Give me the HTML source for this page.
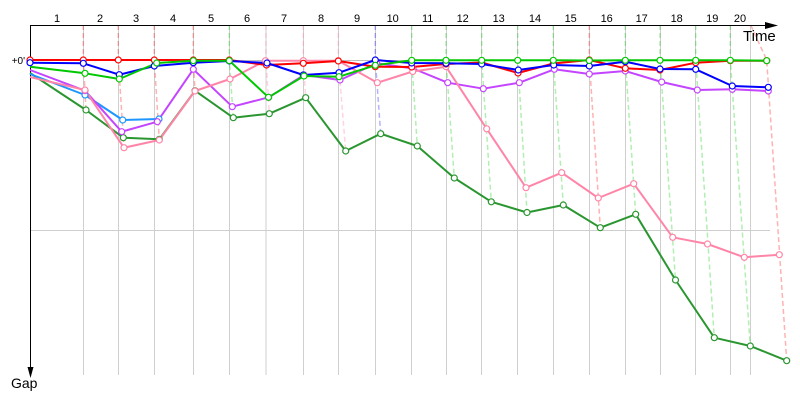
<!DOCTYPE html>
<html><head><meta charset="utf-8"><style>
html,body{margin:0;padding:0;background:#fff;width:800px;height:400px;overflow:hidden}
svg{display:block}
text{font-family:"Liberation Sans","DejaVu Sans",sans-serif;fill:#000}
</style></head><body>
<svg width="800" height="400" viewBox="0 0 800 400" xmlns="http://www.w3.org/2000/svg">
<g stroke="#cfcfcf" stroke-width="1" fill="none">
<line x1="30" y1="60.5" x2="770" y2="60.5" stroke="#bdbdbd"/>
<line x1="30" y1="230.5" x2="770" y2="230.5"/>
<line x1="83.5" y1="25" x2="83.5" y2="375"/><line x1="118.5" y1="25" x2="118.5" y2="375"/>
<line x1="154.5" y1="25" x2="154.5" y2="375"/><line x1="193.5" y1="25" x2="193.5" y2="375"/>
<line x1="229.5" y1="25" x2="229.5" y2="375"/><line x1="266" y1="25" x2="266" y2="375"/>
<line x1="303.5" y1="25" x2="303.5" y2="375"/><line x1="338.5" y1="25" x2="338.5" y2="375"/>
<line x1="375.5" y1="25" x2="375.5" y2="375"/><line x1="411.5" y1="25" x2="411.5" y2="375"/>
<line x1="446.5" y1="25" x2="446.5" y2="375"/><line x1="481.5" y1="25" x2="481.5" y2="375"/>
<line x1="517.5" y1="25" x2="517.5" y2="375"/><line x1="553.5" y1="25" x2="553.5" y2="375"/>
<line x1="589.5" y1="25" x2="589.5" y2="375"/><line x1="625.5" y1="25" x2="625.5" y2="375"/>
<line x1="660.5" y1="25" x2="660.5" y2="375"/><line x1="695.5" y1="25" x2="695.5" y2="375"/>
<line x1="730.5" y1="25" x2="730.5" y2="375"/><line x1="750.5" y1="25" x2="750.5" y2="375"/>
</g>
<g fill="none" stroke-width="1.5" stroke-dasharray="5,3">
<g stroke="rgba(255,0,0,0.3)">
<polyline points="83.3,25 83.3,60 86,110"/>
<polyline points="118.3,25 118.3,60 124,147.7"/>
<polyline points="154.3,25 154.3,60 159.3,140"/>
<polyline points="193.3,25 193.3,60 195,91"/>
<polyline points="589.3,25 589.3,60 600.3,227.7"/>
<polyline points="750.7,25 766.7,60 786.7,360.7"/>
</g>
<g stroke="rgba(0,200,0,0.3)">
<polyline points="229.3,25 229.3,60 233.3,117.7"/>
<polyline points="411.7,25 411.7,60 417.3,146"/>
<polyline points="446,25 446,60 454.3,178"/>
<polyline points="481.7,25 481.7,60 491.3,201.8"/>
<polyline points="517.7,25 517.7,60 527,212.5"/>
<polyline points="553.3,25 553.3,60 563.3,205"/>
<polyline points="625.3,25 625.3,60 635.7,214.3"/>
<polyline points="660,25 660,60 675.5,280"/>
<polyline points="695.7,25 695.7,60 714.3,337.7"/>
<polyline points="730.3,25 730.3,60 750.3,346"/>
</g>
<g stroke="rgba(255,133,168,0.35)">
<polyline points="266,25 266,60 269.3,113.7"/>
<polyline points="303.3,25 303.3,60 305.7,97.7"/>
<polyline points="338.3,25 338.3,60 345.7,151"/>
</g>
<g stroke="rgba(0,0,255,0.3)">
<polyline points="375.3,25 375.3,60 380.7,133.7"/>
</g>
</g>
<g stroke="#000" stroke-width="1" fill="none">
<line x1="30" y1="25.5" x2="768" y2="25.5"/>
<line x1="30.5" y1="25" x2="30.5" y2="370"/>
</g>
<polygon points="765,22 778,25.5 765,29" fill="#000"/>
<polygon points="27.5,367 33.5,367 30.5,378" fill="#000"/>
<g font-size="11" text-anchor="middle">
<text x="57" y="22">1</text><text x="100" y="22">2</text><text x="136" y="22">3</text><text x="173" y="22">4</text>
<text x="211" y="22">5</text><text x="247" y="22">6</text><text x="284" y="22">7</text><text x="321" y="22">8</text>
<text x="357" y="22">9</text><text x="392.7" y="22">10</text><text x="427.7" y="22">11</text><text x="462.7" y="22">12</text>
<text x="498.7" y="22">13</text><text x="535" y="22">14</text><text x="570.7" y="22">15</text><text x="606.7" y="22">16</text>
<text x="641.7" y="22">17</text><text x="676.7" y="22">18</text><text x="712.3" y="22">19</text><text x="740" y="22">20</text>
</g>
<text x="743" y="41" font-size="15">Time</text>
<text x="11" y="388" font-size="14">Gap</text>
<text x="25" y="64" font-size="10" text-anchor="end">+0'</text>
<g fill="none" stroke-width="2" stroke-linejoin="round">
<polyline stroke="#2a9630" points="30,73 86,110 123.3,137.7 159.3,139.3 195,90.7 233.3,117.7 269.3,113.7 305.7,97.7 345.7,151 380.7,133.7 417.3,146 454.3,178 491.3,201.8 527,212.5 563.3,205 600.3,227.7 635.7,214.3 675.5,280 714.3,337.7 750.3,346 786.7,360.7"/>
<polyline stroke="#1e96ff" points="30,74 85,95 122.7,120 159,119"/>
<polyline stroke="#c444ff" points="30,70 85,90.7 121.7,131.7 157.3,121.7 193.3,69.3 232.3,106.7 268.7,97.3 304,75 340,80 376.7,63.3 413,68.5 447.7,82.7 483.3,88.7 519.3,82.7 554.3,69.3 589.3,74 625.3,71 661.7,82 697.3,90 732.3,89.3 768.3,91"/>
<polyline stroke="#ff85a8" points="30,77 85,90 124,147.7 159.3,140 195,91 230,79 265.5,60.7 303.3,60.7 338.3,60.7 377.3,82.7 412.7,71.5 446,66.7 486.7,128.8 526,187.7 561.7,172.7 598.3,198 633.7,183.7 672.7,237.3 707.5,244 744.3,257.3 779.3,254.7"/>
<polyline stroke="#ff0000" points="30,60 83.3,60 118.3,60 154.3,60 193.3,60 229.3,60 266.5,65 303.3,63.3 338.3,61 375.3,66.7 411.7,67 446,64 481.7,62.5 518,73 553.3,63.5 589.3,60 625.3,68.3 660,70 695.7,62.7 730.3,60.7 766.7,60.7"/>
<polyline stroke="#0000ff" points="30,62.7 83.3,63.3 119.3,74.7 154.3,66 193.3,62.7 229.3,61 267,63 303.3,75 339,72.7 375.3,60 411.7,63 446,63.3 481.7,64 518.3,70 553.7,65 589.3,66 625.3,61.7 660,69 695.7,69.3 732.3,86 768.3,87.3"/>
<polyline stroke="#00c800" points="30,66.7 85,73.3 119.3,79 156.7,63 193.3,60.7 229.3,60.7 268.5,97.3 304,76 339,76.7 375.3,65.3 411.7,60.3 446,60.3 481.7,60.3 517.7,60.3 553.3,60.3 589.3,60.5 625.3,60.3 660,60.3 695.7,60.3 730.3,60.3 766.7,60.7"/>
</g>
<g fill="#fff" stroke-width="1.2">
<g stroke="#2a9630">
<circle cx="86" cy="110" r="3"/><circle cx="123.3" cy="137.7" r="3"/><circle cx="159.3" cy="139.3" r="3"/><circle cx="195" cy="90.7" r="3"/><circle cx="233.3" cy="117.7" r="3"/><circle cx="269.3" cy="113.7" r="3"/><circle cx="305.7" cy="97.7" r="3"/><circle cx="345.7" cy="151" r="3"/><circle cx="380.7" cy="133.7" r="3"/><circle cx="417.3" cy="146" r="3"/><circle cx="454.3" cy="178" r="3"/><circle cx="491.3" cy="201.8" r="3"/><circle cx="527" cy="212.5" r="3"/><circle cx="563.3" cy="205" r="3"/><circle cx="600.3" cy="227.7" r="3"/><circle cx="635.7" cy="214.3" r="3"/><circle cx="675.5" cy="280" r="3"/><circle cx="714.3" cy="337.7" r="3"/><circle cx="750.3" cy="346" r="3"/><circle cx="786.7" cy="360.7" r="3"/>
</g>
<g stroke="#1e96ff">
<circle cx="85" cy="95" r="3"/><circle cx="122.7" cy="120" r="3"/><circle cx="159" cy="119" r="3"/>
</g>
<g stroke="#c444ff">
<circle cx="85" cy="90.7" r="3"/><circle cx="121.7" cy="131.7" r="3"/><circle cx="157.3" cy="121.7" r="3"/><circle cx="193.3" cy="69.3" r="3"/><circle cx="232.3" cy="106.7" r="3"/><circle cx="268.7" cy="97.3" r="3"/><circle cx="304" cy="75" r="3"/><circle cx="340" cy="80" r="3"/><circle cx="376.7" cy="63.3" r="3"/><circle cx="413" cy="68.5" r="3"/><circle cx="447.7" cy="82.7" r="3"/><circle cx="483.3" cy="88.7" r="3"/><circle cx="519.3" cy="82.7" r="3"/><circle cx="554.3" cy="69.3" r="3"/><circle cx="589.3" cy="74" r="3"/><circle cx="625.3" cy="71" r="3"/><circle cx="661.7" cy="82" r="3"/><circle cx="697.3" cy="90" r="3"/><circle cx="732.3" cy="89.3" r="3"/><circle cx="768.3" cy="91" r="3"/>
</g>
<g stroke="#ff85a8">
<circle cx="85" cy="90" r="3"/><circle cx="124" cy="147.7" r="3"/><circle cx="159.3" cy="140" r="3"/><circle cx="195" cy="91" r="3"/><circle cx="230" cy="79" r="3"/><circle cx="265.5" cy="60.7" r="3"/><circle cx="303.3" cy="60.7" r="3"/><circle cx="338.3" cy="60.7" r="3"/><circle cx="377.3" cy="82.7" r="3"/><circle cx="412.7" cy="71.5" r="3"/><circle cx="446" cy="66.7" r="3"/><circle cx="486.7" cy="128.8" r="3"/><circle cx="526" cy="187.7" r="3"/><circle cx="561.7" cy="172.7" r="3"/><circle cx="598.3" cy="198" r="3"/><circle cx="633.7" cy="183.7" r="3"/><circle cx="672.7" cy="237.3" r="3"/><circle cx="707.5" cy="244" r="3"/><circle cx="744.3" cy="257.3" r="3"/><circle cx="779.3" cy="254.7" r="3"/>
</g>
<g stroke="#ff0000">
<circle cx="30" cy="60" r="3"/><circle cx="83.3" cy="60" r="3"/><circle cx="118.3" cy="60" r="3"/><circle cx="154.3" cy="60" r="3"/><circle cx="193.3" cy="60" r="3"/><circle cx="229.3" cy="60" r="3"/><circle cx="266.5" cy="65" r="3"/><circle cx="303.3" cy="63.3" r="3"/><circle cx="338.3" cy="61" r="3"/><circle cx="375.3" cy="66.7" r="3"/><circle cx="411.7" cy="67" r="3"/><circle cx="446" cy="64" r="3"/><circle cx="481.7" cy="62.5" r="3"/><circle cx="518" cy="73" r="3"/><circle cx="553.3" cy="63.5" r="3"/><circle cx="589.3" cy="60" r="3"/><circle cx="625.3" cy="68.3" r="3"/><circle cx="660" cy="70" r="3"/><circle cx="695.7" cy="62.7" r="3"/><circle cx="730.3" cy="60.7" r="3"/><circle cx="766.7" cy="60.7" r="3"/>
</g>
<g stroke="#0000ff">
<circle cx="30" cy="62.7" r="3"/><circle cx="83.3" cy="63.3" r="3"/><circle cx="119.3" cy="74.7" r="3"/><circle cx="154.3" cy="66" r="3"/><circle cx="193.3" cy="62.7" r="3"/><circle cx="229.3" cy="61" r="3"/><circle cx="267" cy="63" r="3"/><circle cx="303.3" cy="75" r="3"/><circle cx="339" cy="72.7" r="3"/><circle cx="375.3" cy="60" r="3"/><circle cx="411.7" cy="63" r="3"/><circle cx="446" cy="63.3" r="3"/><circle cx="481.7" cy="64" r="3"/><circle cx="518.3" cy="70" r="3"/><circle cx="553.7" cy="65" r="3"/><circle cx="589.3" cy="66" r="3"/><circle cx="625.3" cy="61.7" r="3"/><circle cx="660" cy="69" r="3"/><circle cx="695.7" cy="69.3" r="3"/><circle cx="732.3" cy="86" r="3"/><circle cx="768.3" cy="87.3" r="3"/>
</g>
<g stroke="#00c800">
<circle cx="85" cy="73.3" r="3"/><circle cx="119.3" cy="79" r="3"/><circle cx="156.7" cy="63" r="3"/><circle cx="193.3" cy="60.7" r="3"/><circle cx="229.3" cy="60.7" r="3"/><circle cx="268.5" cy="97.3" r="3"/><circle cx="304" cy="76" r="3"/><circle cx="339" cy="76.7" r="3"/><circle cx="375.3" cy="65.3" r="3"/><circle cx="411.7" cy="60.3" r="3"/><circle cx="446" cy="60.3" r="3"/><circle cx="481.7" cy="60.3" r="3"/><circle cx="517.7" cy="60.3" r="3"/><circle cx="553.3" cy="60.3" r="3"/><circle cx="589.3" cy="60.5" r="3"/><circle cx="625.3" cy="60.3" r="3"/><circle cx="660" cy="60.3" r="3"/><circle cx="695.7" cy="60.3" r="3"/><circle cx="730.3" cy="60.3" r="3"/><circle cx="766.7" cy="60.7" r="3"/>
</g>
</g>
</svg>
</body></html>
